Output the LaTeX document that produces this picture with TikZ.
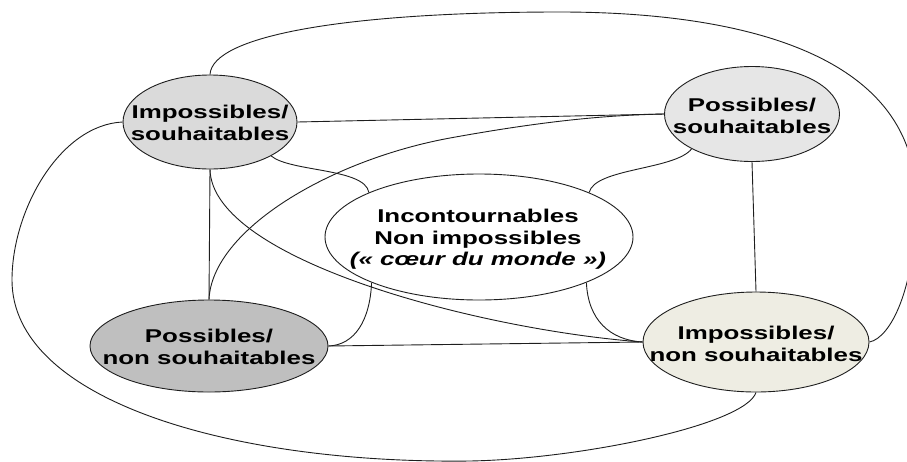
\documentclass[tikz,border=0pt]{standalone}
\usepackage{fontspec}
\setmainfont{Liberation Sans}
\usetikzlibrary{shapes.geometric,backgrounds}

% wide bold labels, several lines, centred
\newcommand{\widelbl}[1]{\scalebox{1.4}[1]{\begin{tabular}{@{}c@{}}#1\end{tabular}}}

\definecolor{greyA}{HTML}{DADADA}
\definecolor{greyB}{HTML}{E6E6E6}
\definecolor{greyD}{HTML}{BFBFBF}
\definecolor{beigeE}{HTML}{EEEDE3}
\definecolor{inkline}{HTML}{1E1E1E}

\tikzset{
  zone/.style={ellipse, draw=inkline, line width=0.9pt, inner sep=0pt},
  zonetext/.style={inner sep=0pt, font=\fontsize{18.5}{21.5}\selectfont\bfseries},
  link/.style={draw=inkline, line width=0.9pt}
}

\begin{document}
\begin{tikzpicture}[x=1pt,y=-1pt]
\useasboundingbox (0,0) rectangle (907,461);
\clip (0,0) rectangle (907,461);

% the five zones
\node[zone, fill=greyA, minimum width=174pt, minimum height=94pt] (A) at (210,122) {};
\node[zone, fill=greyB, minimum width=175pt, minimum height=95pt] (B) at (752,114) {};
\node[zone, fill=white, minimum width=308pt, minimum height=126pt] (C) at (479,237) {};
\node[zone, fill=greyD, minimum width=238pt, minimum height=92pt] (D) at (209,346) {};
\node[zone, fill=beigeE, minimum width=226pt, minimum height=100pt] (E) at (756,342) {};

% their labels
\node[zonetext] (At) at (210,125) {\widelbl{Impossibles/\\souhaitables}};
\node[zonetext] (Bt) at (752,118) {\widelbl{Possibles/\\souhaitables}};
\node[zonetext] (Ct) at (478,240) {\widelbl{Incontournables\\Non impossibles\\\itshape(« cœur du monde »)}};
\node[zonetext] (Dt) at (209,349) {\widelbl{Possibles/\\non souhaitables}};
\node[zonetext] (Et) at (756,346) {\widelbl{Impossibles/\\non souhaitables}};

\begin{scope}[on background layer]
  % outer loop over the top and down the right side
  \path[link] (A.north) .. controls (212,35) and (350,12) .. (560,12)
    .. controls (720,12) and (916,45) .. (916,200)
    .. controls (916,290) and (890,338) .. (E.east);
  % outer loop round the left side and along the bottom
  \path[link] (A.west) .. controls (60,125) and (12,210) .. (12,280)
    .. controls (12,400) and (230,464) .. (470,461)
    .. controls (580,459) and (745,425) .. (E.south);
  % straight links
  \path[link] (A.east) -- (B.west);
  \path[link] (A.south) -- (D.north);
  \path[link] (B.south) -- (E.north);
  \path[link] (D.east) -- (E.west);
  % curved links
  \path[link] (A.-29) .. controls (290,172) and (365,168) .. (C.158);
  \path[link] (A.south) .. controls (212,260) and (480,330) .. (E.west);
  \path[link] (D.north) .. controls (212,230) and (330,160) .. (450,138)
    .. controls (560,118) and (620,115) .. (B.west);
  \path[link] (B.-150) .. controls (675,170) and (595,168) .. (C.22);
  \path[link] (C.-157) .. controls (370,320) and (355,345) .. (D.east);
  \path[link] (C.-23) .. controls (588,320) and (610,340) .. (E.west);
\end{scope}
\end{tikzpicture}
\end{document}
